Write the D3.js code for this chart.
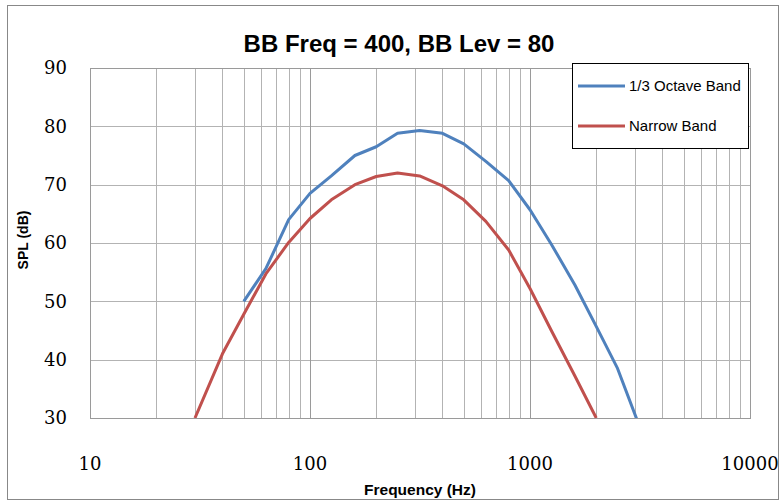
<!DOCTYPE html>
<html lang="en">
<head>
  <meta charset="UTF-8">
  <title>BB Freq = 400, BB Lev = 80</title>
  <script src="https://d3js.org/d3.v7.min.js"></script>
  <style>
    body { margin: 0; background: #fff; }
    .grid line { stroke: #b3b3b3; stroke-width: 1px; }
    .tick-label { font-family: "DejaVu Serif", serif; font-size: 18px; fill: #000; }
    .axis-title { font-family: "Liberation Sans", Arial, sans-serif; font-size: 15.5px; font-weight: bold; fill: #000; }
    .legend-label { font-family: "Liberation Sans", Arial, sans-serif; font-size: 15px; fill: #000; }
  </style>
</head>
<body>
  <svg id="chart" width="783" height="500"></svg>
  <script>
    // Data
    const octaveFreq = [50, 63, 80, 100, 125, 160, 200, 250, 315, 400, 500, 630, 800, 1000, 1250, 1600, 2000, 2500, 3150];
    const octaveSpl  = [50, 55.6, 64, 68.5, 71.5, 75, 76.5, 78.8, 79.3, 78.8, 77, 74, 70.7, 65.7, 59.8, 52.8, 45.7, 38.5, 28.5];

    const narrowFreq = [30, 40, 50, 63, 80, 100, 125, 160, 200, 250, 315, 400, 500, 630, 800, 1000, 1250, 1600, 2000];
    const narrowSpl  = [30, 41, 47.8, 54.7, 60.1, 64.2, 67.4, 70, 71.4, 72, 71.5, 69.8, 67.4, 63.7, 58.8, 52.2, 45, 37.2, 30];

    const xTicks = [10, 100, 1000, 10000];
    const yTicks = [30, 40, 50, 60, 70, 80, 90];

    const series = [
      { name: "1/3 Octave Band", color: "#4F81BD", freq: octaveFreq, spl: octaveSpl },
      { name: "Narrow Band", color: "#C0504D", freq: narrowFreq, spl: narrowSpl }
    ];

    const width = 783, height = 500;
    const plot = { left: 90, right: 750, top: 68, bottom: 418 };

    const svg = d3.select("#chart");

    // outer chart border
    svg.append("rect")
      .attr("x", 7.5).attr("y", 5.5)
      .attr("width", width - 12).attr("height", height - 6)
      .attr("fill", "none").attr("stroke", "#888").attr("stroke-width", 1);

    const x = d3.scaleLog().domain([10, 10000]).range([plot.left, plot.right]);
    const y = d3.scaleLinear().domain([30, 90]).range([plot.bottom, plot.top]);

    // vertical gridlines: every 1..9 per decade
    const minor = [];
    for (let dec = 10; dec < 10000; dec *= 10) {
      for (let m = 1; m < 10; m++) minor.push(dec * m);
    }
    minor.push(10000);

    const grid = svg.append("g").attr("class", "grid");
    grid.selectAll(".vx")
      .data(minor)
      .join("line")
      .attr("x1", d => Math.round(x(d)) + 0.5)
      .attr("x2", d => Math.round(x(d)) + 0.5)
      .attr("y1", plot.top).attr("y2", plot.bottom);

    grid.selectAll(".hy")
      .data(yTicks)
      .join("line")
      .attr("x1", plot.left).attr("x2", plot.right)
      .attr("y1", d => Math.round(y(d)) + 0.5)
      .attr("y2", d => Math.round(y(d)) + 0.5);

    // major decade lines slightly darker
    grid.selectAll(".maj")
      .data(xTicks)
      .join("line")
      .attr("x1", d => Math.round(x(d)) + 0.5)
      .attr("x2", d => Math.round(x(d)) + 0.5)
      .attr("y1", plot.top).attr("y2", plot.bottom)
      .style("stroke", "#9a9a9a");

    // plot border
    svg.append("rect")
      .attr("x", plot.left + 0.5).attr("y", plot.top + 0.5)
      .attr("width", plot.right - plot.left).attr("height", plot.bottom - plot.top)
      .attr("fill", "none").attr("stroke", "#9a9a9a");

    // tick labels
    svg.selectAll(".ylab")
      .data(yTicks)
      .join("text")
      .attr("class", "tick-label")
      .attr("x", 67)
      .attr("y", d => y(d))
      .attr("dy", "0.36em")
      .attr("text-anchor", "end")
      .text(d => d);

    svg.selectAll(".xlab")
      .data(xTicks)
      .join("text")
      .attr("class", "tick-label")
      .attr("x", d => x(d))
      .attr("y", 470)
      .attr("text-anchor", "middle")
      .text(d => d);

    // lines
    svg.append("clipPath").attr("id", "clip")
      .append("rect")
      .attr("x", plot.left).attr("y", plot.top)
      .attr("width", plot.right - plot.left).attr("height", plot.bottom - plot.top);

    const line = d3.line()
      .x(d => x(d[0]))
      .y(d => y(d[1]))
      .curve(d3.curveLinear);

    svg.append("g").attr("clip-path", "url(#clip)")
      .selectAll("path")
      .data(series)
      .join("path")
      .attr("fill", "none")
      .attr("stroke", d => d.color)
      .attr("stroke-width", 3)
      .attr("stroke-linejoin", "round")
      .attr("d", d => line(d.freq.map((f, i) => [f, d.spl[i]])));

    // title
    svg.append("text")
      .attr("x", 399).attr("y", 52)
      .attr("text-anchor", "middle")
      .style("font-family", "'Liberation Sans', Arial, sans-serif")
      .style("font-size", "24px")
      .style("font-weight", "bold")
      .text("BB Freq = 400, BB Lev = 80");

    // axis titles
    svg.append("text")
      .attr("class", "axis-title")
      .attr("x", 420).attr("y", 495)
      .attr("text-anchor", "middle")
      .text("Frequency (Hz)");

    svg.append("text")
      .attr("class", "axis-title")
      .attr("transform", "translate(28,240) rotate(-90)")
      .attr("text-anchor", "middle")
      .style("font-size", "14px")
      .text("SPL (dB)");

    // legend
    const legend = svg.append("g");
    legend.append("rect")
      .attr("x", 572.5).attr("y", 63.5)
      .attr("width", 176).attr("height", 85)
      .attr("fill", "#fff").attr("stroke", "#000");

    const item = legend.selectAll(".item")
      .data(series)
      .join("g")
      .attr("transform", (d, i) => `translate(578,${86 + i * 40})`);

    item.append("line")
      .attr("x1", 0).attr("x2", 47)
      .attr("stroke", d => d.color)
      .attr("stroke-width", 3);

    item.append("text")
      .attr("class", "legend-label")
      .attr("x", 51).attr("dy", "0.35em")
      .text(d => d.name);
  </script>
</body>
</html>
